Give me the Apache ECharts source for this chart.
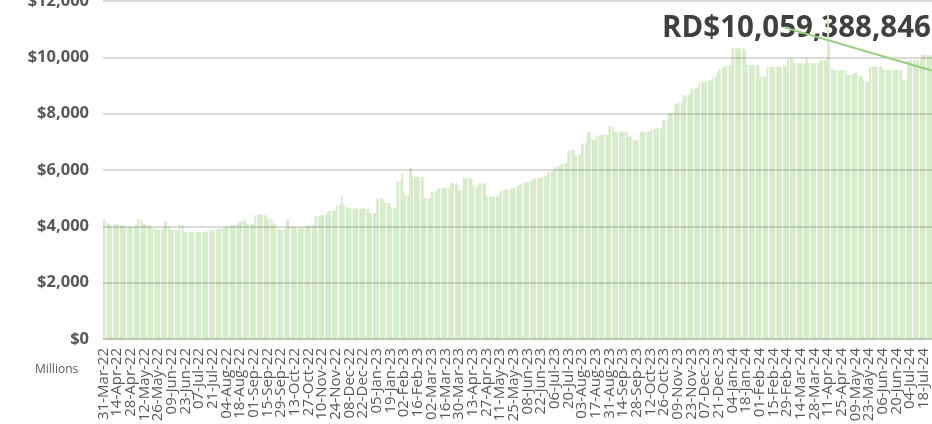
<!DOCTYPE html>
<html>
<head>
<meta charset="utf-8">
<script src="https://cdn.jsdelivr.net/npm/echarts@6/dist/echarts.min.js"></script>
<style>
html, body { margin: 0; padding: 0; background: #fff; overflow: hidden; }
#chart { width: 932px; height: 424px; }
</style>
</head>
<body>
<div id="chart"></div>
<script>
// daily balance, millions, one value per weekday (weekends have no bar)
var from31Mar22 = [
  4240, 4230, 4110, 4100, 4080,  4060, 3980, 4060, 4050, 4070,
  4060, 4040, 4050, 4020, 4030,  4010, 3990, 3960, 3980, 3970,
  3990, 3960, 4000, 3980, 4010,  4250, 4270, 4230, 4100, 4090,
  4080, 4060, 4050, 4030, 3980,  3950, 3930, 3920, 3900, 3890,
  3880, 3870, 3860, 3900, 3920,  4180, 4200, 3980, 3900, 3880,
  3870, 3860, 3880, 3850, 3840,  3830, 4070, 4060, 3820, 3790,
  3780, 3790, 3770, 3790, 3800,  3790, 3780, 3800, 3790, 3810,
  3790, 3800, 3810, 3800, 3820,  3810, 3820, 3830, 3840, 3860,
  3850, 3870, 3880, 3890, 3900,  3900, 3920, 3930, 3950, 3970,
  3980, 4000, 4020, 4030, 4040,  4050, 4060, 4080, 4100, 4130,
  4150, 4180, 4200, 4210, 4080,  4070, 4060, 4050, 4070, 4090,
  4100, 4390, 4410, 4420, 4400,  4430, 4410, 4380, 4400, 4290,
  4280, 4260, 4270, 4100, 4080,  4070, 4060, 3950, 3880, 3850,
  3840, 3870, 3920, 3960, 4230,  4240, 3990, 3980, 3970, 3960,
  3970, 3980, 3950, 3960, 3950,  3940, 3950, 3960, 4000, 4030,
  4030, 4040, 4020, 4050, 4040,  4340, 4360, 4380, 4400, 4390,
  4410, 4400, 4420, 4430, 4520,  4540, 4550, 4560, 4540, 4570,
  4580, 4740, 4760, 4750, 5070,  4780, 4750, 4700, 4650, 4640,
  4630, 4620, 4640, 4630, 4610,  4630, 4640, 4620, 4610, 4630,
  4620, 4640, 4600, 4610, 4470,  4460, 4450, 4470, 4460, 4480
]
var from05Jan23 = [
  4980, 4990, 5010, 4970, 4960,  4830, 4840, 4820, 4810, 4830,
  4670, 4660, 4650, 4680, 4660,  5560, 5580, 5600, 5860, 5200,
  5110, 5100, 5120, 5110, 6060,  6050, 5780, 5760, 5750, 5770,
  5760, 5740, 5720, 5760, 5000,  4990, 5000, 4980, 4990, 5010,
  5220, 5230, 5240, 5220, 5340,  5350, 5340, 5330, 5360, 5350,
  5340, 5360, 5350, 5370, 5520,  5530, 5520, 5510, 5530, 5300,
  5290, 5280, 5300, 5700, 5690,  5710, 5700, 5720, 5690, 5700,
  5420, 5400, 5390, 5410, 5380,  5520, 5530, 5510, 5540, 5520,
  5060, 5050, 5040, 5060, 5050,  5040, 5060, 5050, 5070, 5080,
  5200, 5250, 5280, 5300, 5290,  5310, 5300, 5320, 5340, 5330,
  5350, 5380, 5400, 5420, 5450,  5500, 5520, 5540, 5530, 5560,
  5560, 5580, 5600, 5620, 5650,  5680, 5700, 5690, 5720, 5710,
  5730, 5750, 5760, 5780, 5800,  5900, 5930, 5950, 5960, 5980,
  6080, 6100, 6120, 6140, 6150,  6200, 6230, 6250, 6240, 6260,
  6650, 6700, 6720, 6680, 6700,  6530, 6520, 6550, 6540, 6560,
  6900, 6940, 6960, 6950, 7350,  7340, 7360, 7080, 7060, 7050,
  7060, 7200, 7230, 7240, 7250,  7240, 7260, 7230, 7250, 7240,
  7540, 7560, 7550, 7350, 7340,  7360, 7350, 7340, 7370, 7350,
  7340, 7360, 7350, 7180, 7170,  7180, 7190, 7070, 7060, 7050,
  7060, 7070, 7340, 7350, 7360,  7350, 7340, 7370, 7360, 7350,
  7360, 7470, 7480, 7460, 7470,  7480, 7470, 7490, 7480, 7760,
  7770, 7760, 7780, 7990, 8000,  8010, 8020, 8300, 8340, 8350,
  8360, 8370, 8380, 8390, 8640,  8650, 8660, 8640, 8670, 8680,
  8880, 8890, 8870, 8900, 8910,  8920, 9100, 9120, 9130, 9110,
  9120, 9140, 9150, 9160, 9180,  9200, 9250, 9300, 9350, 9420,
  9500, 9580, 9620, 9650, 9660,  9680, 9690, 9700, 9720, 9740
]
var from04Jan24 = [
  10300, 10350, 10320, 10280, 10340,  10310, 10290, 10330, 10260, 10300,
  9720, 9730, 9700, 9740, 9720,  9710, 9730, 9690, 9720, 9700,
  9320, 9300, 9310, 9290, 9320,  9330, 9640, 9660, 9650, 9670,
  9640, 9660, 9680, 9650, 9670,  9690, 9660, 9700, 9680, 9650,
  9670, 9960, 9980, 9950, 9800,  9780, 9790, 9770, 9800, 9780,
  9790, 9800, 9770, 9810, 9990,  9780, 9790, 9770, 9800, 9780,
  9760, 9790, 9780, 9800, 9910,  9900, 9890, 9910, 9900, 9880,
  11550, 10500, 9600, 9560, 9540,  9550, 9560, 9540, 9550, 9530,
  9560, 9540, 9550, 9380, 9370,  9360, 9380, 9370, 9390, 9440,
  9430, 9450, 9320, 9330, 9310,  9320, 9140, 9130, 9120, 9140,
  9130, 9660, 9670, 9650, 9680,  9660, 9670, 9650, 9680, 9660,
  9550, 9560, 9540, 9550, 9570,  9550, 9540, 9560, 9550, 9540,
  9560, 9550, 9540, 9550, 9200,  9190, 9210, 9200, 9880, 9890,
  9900, 9880, 9890, 9910, 9900,  9890, 9900, 9920, 10080, 10070,
  10080, 10090, 10070, 10060, 10080,  10070, 10059
]
var firstDay = [2022, 2, 31]
var lastDay = [2024, 6, 26]
var labelEvery = 14 // one date label every two weeks
var yMin = 0, yMax = 12000, yStep = 2000
var totalText = 'RD$10,059,388,846'
var unitText = 'Millions'
// leader line from the total label towards the latest bar
var pointerFrom = ['27-Feb-24', 11055]
var pointerTo = ['26-Jul-24', 9530]

var monthNames = ['Jan', 'Feb', 'Mar', 'Apr', 'May', 'Jun', 'Jul', 'Aug', 'Sep', 'Oct', 'Nov', 'Dec']

function dayLabel(d) {
  var dd = d.getUTCDate()
  return (dd < 10 ? '0' : '') + dd + '-' + monthNames[d.getUTCMonth()] + '-' + String(d.getUTCFullYear()).slice(2)
}

var weekdayValues = from31Mar22.concat(from05Jan23, from04Jan24)
var days = []
var values = []
var k = 0
var endTime = Date.UTC(lastDay[0], lastDay[1], lastDay[2])
for (var t = Date.UTC(firstDay[0], firstDay[1], firstDay[2]); t <= endTime; t += 86400000) {
  var d = new Date(t)
  var wd = d.getUTCDay()
  days.push(dayLabel(d))
  if (wd === 0 || wd === 6) {
    values.push(null)
  } else {
    values.push(weekdayValues[k++])
  }
}

var chart = echarts.init(document.getElementById('chart'))
chart.setOption({
  animation: false,
  textStyle: { fontFamily: 'Open Sans' },
  grid: { left: 103, right: 0, top: 1, bottom: 85, containLabel: false, outerBoundsMode: 'none' },
  xAxis: {
    type: 'category',
    data: days,
    boundaryGap: true,
    axisLine: { lineStyle: { color: '#d9d9d9', width: 1.5 } },
    axisTick: { interval: labelEvery - 1, length: 5, lineStyle: { color: '#d9d9d9', width: 1.5 } },
    axisLabel: {
      interval: 0,
      rotate: 90,
      margin: 9,
      fontSize: 15,
      color: '#595959',
      fontFamily: 'Open Sans',
      hideOverlap: false,
      showMinLabel: true,
      showMaxLabel: true,
      formatter: function (v, i) { return i % labelEvery === 0 ? v : '' }
    }
  },
  yAxis: {
    type: 'value',
    min: yMin,
    max: yMax,
    interval: yStep,
    z: 3,
    axisLine: { show: false },
    axisTick: { show: false },
    axisLabel: {
      margin: 14,
      fontSize: 16.5,
      fontWeight: 'bold',
      color: '#595959',
      fontFamily: 'Open Sans',
      formatter: function (v) { return '$' + v.toLocaleString('en-US') }
    },
    splitLine: { lineStyle: { color: 'rgba(0,0,0,0.14)', width: 2 } }
  },
  series: [{
    type: 'bar',
    data: values,
    barWidth: '190%',
    silent: true,
    itemStyle: { color: '#d6ecca' },
    markLine: {
      silent: true,
      symbol: 'none',
      label: { show: false },
      lineStyle: { color: '#93d27c', width: 2, type: 'solid' },
      data: [[{ coord: pointerFrom }, { coord: pointerTo }]]
    }
  }],
  graphic: [
    {
      type: 'text',
      left: 35,
      top: 364,
      style: { text: unitText, fontSize: 12, fill: '#595959', fontFamily: 'Open Sans' }
    },
    {
      type: 'text',
      left: 662,
      top: 14,
      style: { text: totalText, fontSize: 29.5, fontWeight: 'bold', fill: '#404040', fontFamily: 'Open Sans' }
    }
  ]
})
</script>
</body>
</html>
